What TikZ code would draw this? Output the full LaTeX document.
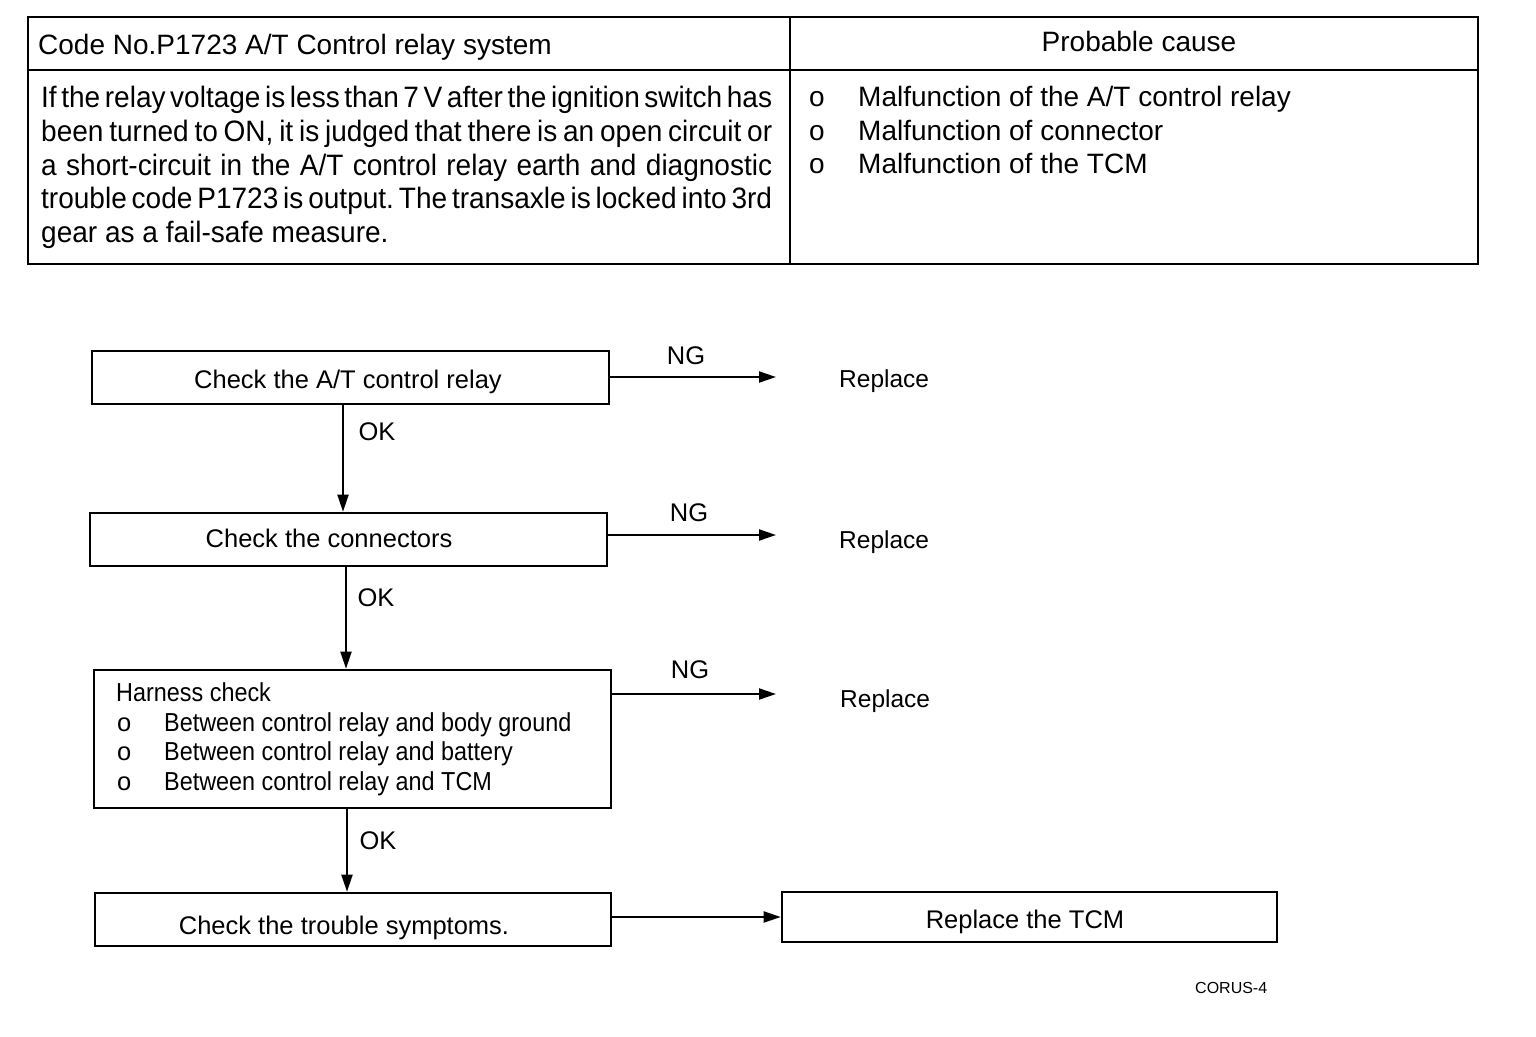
\documentclass[tikz,border=0pt]{standalone}
\usepackage{fontspec}
\setmainfont{Liberation Sans}
\newfontfamily\nfont[FakeStretch=0.95]{Liberation Sans}
\newfontfamily\nnfont[FakeStretch=0.9]{Liberation Sans}
\usetikzlibrary{arrows.meta}
\frenchspacing
\newcommand\tightsp{\spaceskip=0.1em plus 1em\relax}
\newcommand\jline[1]{{\tightsp\makebox[731pt][s]{#1}}}
\begin{document}
\begin{tikzpicture}[x=1pt,y=-1pt,
  frame/.style={line width=2.6pt},
  box/.style={draw, line width=2.6pt, rectangle, inner sep=0pt},
  arr/.style={line width=2pt, -{Triangle[length=17pt,width=11pt]}},
  t/.style={inner sep=0pt},
  big/.style={t, font=\fontsize{28}{32}\selectfont},
  mid/.style={t, font=\fontsize{25.5}{30}\selectfont},
  rep/.style={t, font=\fontsize{24.5}{29}\selectfont},
  narrow/.style={t, font=\nnfont\fontsize{26}{30}\selectfont},
  body/.style={t, font=\nfont\fontsize{29.5}{34}\selectfont},
  small/.style={t, font=\fontsize{16}{19}\selectfont}]
\useasboundingbox (0,0) rectangle (1536,1036);
\fill[white] (0,0) rectangle (1536,1036);
% table
\draw[frame] (28,17) rectangle (1478,264);
\draw[frame] (28,70) -- (1478,70);
\draw[frame] (790,17) -- (790,264);
\node[big, anchor=base west] (hdl) at (38,54) {Code No.P1723 A/T Control relay system};
\node[big, anchor=base] (hdr) at (1139,51) {Probable cause};
\node[body, anchor=base west] (l1) at (41,107) {\jline{If the relay voltage is less than 7 V after the ignition switch has}};
\node[body, anchor=base west] (l2) at (41,141) {\jline{been turned to ON, it is judged that there is an open circuit or}};
\node[body, anchor=base west] (l3) at (41,175) {\jline{a short-circuit in the A/T control relay earth and diagnostic}};
\node[body, anchor=base west] (l4) at (41,208) {\jline{trouble code P1723 is output. The transaxle is locked into 3rd}};
\node[body, anchor=base west] (l5) at (41,242) {gear as a fail-safe measure.};
\node[big, anchor=base west] (o1) at (809,106) {o};
\node[big, anchor=base west] (o2) at (809,140) {o};
\node[big, anchor=base west] (o3) at (809,173) {o};
\node[big, anchor=base west] (c1) at (858,106) {Malfunction of the A/T control relay};
\node[big, anchor=base west] (c2) at (858,140) {Malfunction of connector};
\node[big, anchor=base west] (c3) at (858,173) {Malfunction of the TCM};
% flow boxes
\node[box, minimum width=517pt, minimum height=53pt] (b1) at (350.5,377.5) {};
\node[box, minimum width=517pt, minimum height=53pt] (b2) at (348.5,539.5) {};
\node[box, minimum width=517pt, minimum height=138pt] (b3) at (352.5,739) {};
\node[box, minimum width=516pt, minimum height=53pt] (b4) at (353,919.5) {};
\node[box, minimum width=495pt, minimum height=50pt] (b5) at (1029.5,917) {};
\node[mid, anchor=base] (t1) at (348,388) {Check the A/T control relay};
\node[mid, anchor=base] (t2) at (329,547) {Check the connectors};
\node[narrow, anchor=base west] (h0) at (116,701) {Harness check};
\node[mid, anchor=base west] (hb1) at (117,731) {o};
\node[mid, anchor=base west] (hb2) at (117,760) {o};
\node[mid, anchor=base west] (hb3) at (117,790) {o};
\node[narrow, anchor=base west] (h1) at (164,731) {Between control relay and body ground};
\node[narrow, anchor=base west] (h2) at (164,760) {Between control relay and battery};
\node[narrow, anchor=base west] (h3) at (164,790) {Between control relay and TCM};
\node[mid, anchor=base] (t4) at (344,934) {Check the trouble symptoms.};
\node[mid, anchor=base] (t5) at (1025,928) {Replace the TCM};
% replace targets
\coordinate (e1) at (776,377);
\coordinate (e2) at (776,535);
\coordinate (e3) at (776,694);
\node[rep, anchor=base west] (r1) at (839,387) {Replace};
\node[rep, anchor=base west] (r2) at (839,548) {Replace};
\node[rep, anchor=base west] (r3) at (840,707) {Replace};
% arrows
\draw[arr] (b1.east |- e1) -- (e1);
\draw[arr] (b2.east |- e2) -- (e2);
\draw[arr] (b3.east |- e3) -- (e3);
\draw[arr] (b4.east |- b5.west) -- (b5.west);
\draw[arr] ([xshift=-7.5pt]b1.south) -- ([xshift=-5.5pt]b2.north);
\draw[arr] ([xshift=-2.5pt]b2.south) -- ([xshift=-6.5pt]b3.north);
\draw[arr] ([xshift=-5.5pt]b3.south) -- ([xshift=-6pt]b4.north);
\node[mid] (ng1) at (686,356) {NG};
\node[mid] (ng2) at (689,513) {NG};
\node[mid] (ng3) at (690,670) {NG};
\node[mid] (ok1) at (377,432) {OK};
\node[mid] (ok2) at (376,598) {OK};
\node[mid] (ok3) at (378,841) {OK};
\node[small, anchor=base west] (cor) at (1195,993) {CORUS-4};
\end{tikzpicture}
\end{document}
